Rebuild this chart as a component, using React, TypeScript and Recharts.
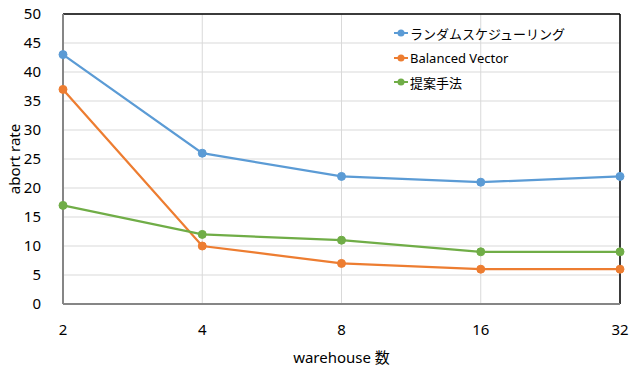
import React from 'react';
import { LineChart, Line, XAxis, YAxis, CartesianGrid, ReferenceLine, Label } from 'recharts';

const warehouses = ['2', '4', '8', '16', '32'];
const randomSched = [43, 26, 22, 21, 22];
const balancedVector = [37, 10, 7, 6, 6];
const proposed = [17, 12, 11, 9, 9];
const yTicks = [0, 5, 10, 15, 20, 25, 30, 35, 40, 45, 50];

const seriesInfo = [
  { key: 'random', name: 'ランダムスケジューリング', color: '#5B9BD5' },
  { key: 'balanced', name: 'Balanced Vector', color: '#ED7D31' },
  { key: 'proposed', name: '提案手法', color: '#70AD47' },
];

const data = warehouses.map((w, i) => ({
  warehouse: w,
  random: randomSched[i],
  balanced: balancedVector[i],
  proposed: proposed[i],
}));

const font = '"Noto Sans", "Noto Sans CJK JP", sans-serif';

// legend drawn like the office style: short line with a dot in the middle
const LegendBox = () => (
  <div style={{ position: 'absolute', left: 393, top: 21, fontFamily: font, fontSize: 13, color: '#000' }}>
    {seriesInfo.map(s => (
      <div key={s.key} style={{ display: 'flex', alignItems: 'center', height: 24.5 }}>
        <svg width={16} height={10} style={{ marginRight: 1 }}>
          <line x1={1} y1={5} x2={15} y2={5} stroke={s.color} strokeWidth={2} />
          <circle cx={8} cy={5} r={3.5} fill={s.color} />
        </svg>
        <span>{s.name}</span>
      </div>
    ))}
  </div>
);

const App: React.FC = () => {
  return (
    <div style={{ position: 'absolute', left: 0, top: 0, width: 632, height: 369, background: '#fff' }}>
      <LineChart width={632} height={369} data={data} margin={{ top: 14, right: 12, left: 13, bottom: 35 }}>
        <CartesianGrid stroke="#D9D9D9" strokeWidth={1} />
        <XAxis
          dataKey="warehouse"
          stroke="#868686"
          strokeWidth={2}
          tickLine={false}
          tick={{ fill: '#000', fontSize: 15, fontFamily: font }}
          tickMargin={14}
          height={30}
        >
          <Label value="warehouse 数" position="bottom" offset={18} style={{ fill: '#000', fontSize: 15, fontFamily: font }} />
        </XAxis>
        <YAxis
          domain={[0, 50]}
          ticks={yTicks}
          interval={0}
          stroke="#868686"
          strokeWidth={2}
          tickLine={false}
          width={50}
          tick={{ fill: '#000', fontSize: 15, fontFamily: font }}
          tickMargin={16}
        >
          <Label value="abort rate" angle={-90} position="insideLeft" offset={2} style={{ fill: '#000', fontSize: 15, fontFamily: font, textAnchor: 'middle' }} />
        </YAxis>
        <ReferenceLine y={50} stroke="#000" strokeWidth={1.5} />
        <ReferenceLine x="32" stroke="#000" strokeWidth={1.5} />
        {seriesInfo.map(s => (
          <Line
            key={s.key}
            type="linear"
            dataKey={s.key}
            name={s.name}
            stroke={s.color}
            strokeWidth={2.25}
            dot={{ r: 4, fill: s.color, stroke: s.color, strokeWidth: 1 }}
            activeDot={false}
            isAnimationActive={false}
          />
        ))}
      </LineChart>
      <LegendBox />
    </div>
  );
};

export default App;
